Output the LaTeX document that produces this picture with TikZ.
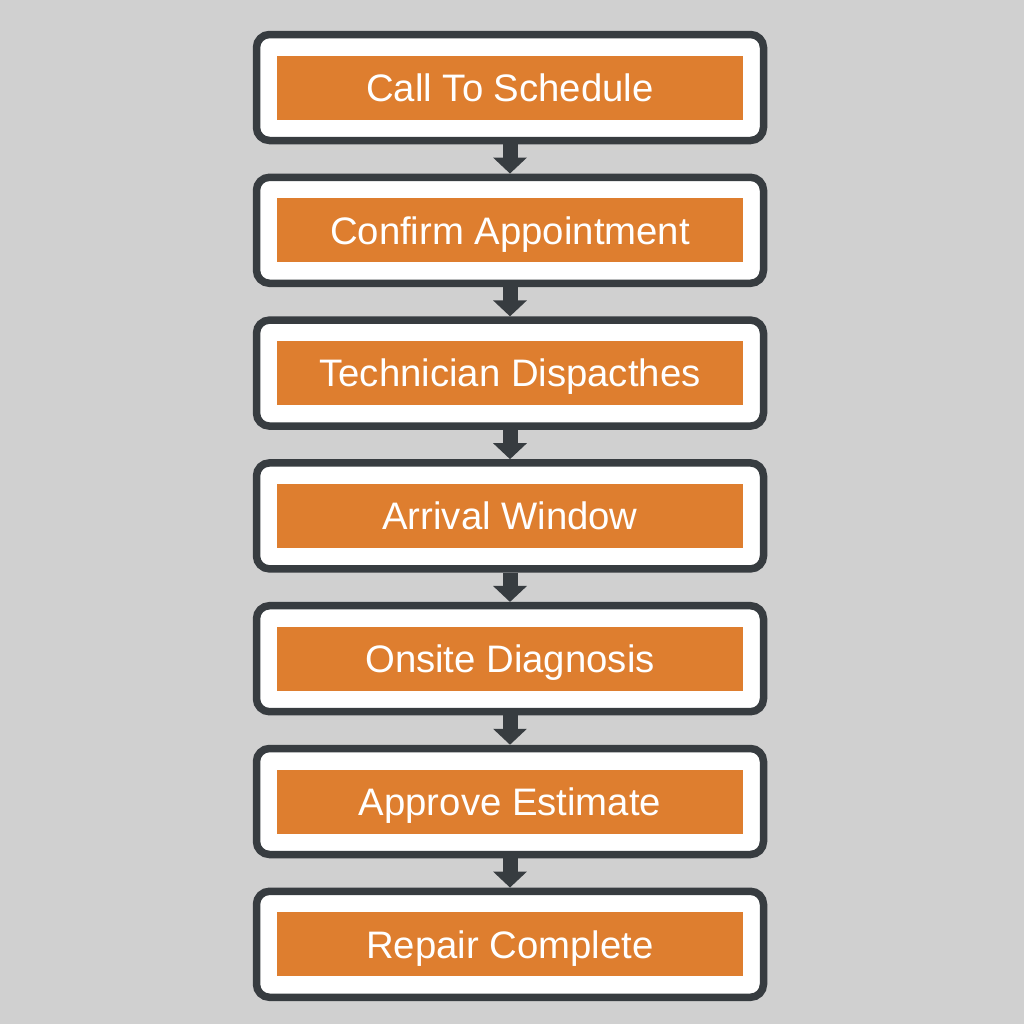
\documentclass[tikz,border=0pt]{standalone}
\usepackage{fontspec}
\setmainfont{Liberation Sans}
\usetikzlibrary{arrows.meta, positioning}
\definecolor{bggray}{HTML}{D0D0D0}
\definecolor{darkline}{HTML}{373C40}
\definecolor{steporange}{HTML}{DE7E2F}
\tikzstyle{card} = [rectangle, draw=darkline, fill=white, line width=0.075cm, rounded corners=0.13cm, minimum width=5.07cm, minimum height=1.06cm]
\tikzstyle{band} = [rectangle, fill=steporange, text=white, minimum width=4.66cm, minimum height=0.64cm, inner sep=0pt, text height=7.8pt, text depth=0pt, font=\fontsize{10.9}{13}\selectfont]
\tikzstyle{flow} = [draw=darkline, line width=0.15cm, -{Triangle[width=0.33cm, length=0.16cm]}]

\begin{document}
\begin{tikzpicture}[node distance = 1.428cm]
    % Background
    \fill [bggray] (0,0) rectangle (10.24,-10.24);
    \useasboundingbox (0,0) rectangle (10.24,-10.24);

    % Boxes
    \node [card] (call) at (5.10,-0.875) {};
    \node [card, below of=call] (confirm) {};
    \node [card, below of=confirm] (dispatch) {};
    \node [card, below of=dispatch] (arrival) {};
    \node [card, below of=arrival] (diagnosis) {};
    \node [card, below of=diagnosis] (estimate) {};
    \node [card, below of=estimate] (repair) {};

    % Labels
    \node [band] (callt) at (call) {Call To Schedule};
    \node [band] (confirmt) at (confirm) {Confirm Appointment};
    \node [band] (dispatcht) at (dispatch) {Technician Dispacthes};
    \node [band] (arrivalt) at (arrival) {Arrival Window};
    \node [band] (diagnosist) at (diagnosis) {Onsite Diagnosis};
    \node [band] (estimatet) at (estimate) {Approve Estimate};
    \node [band] (repairt) at (repair) {Repair Complete};

    % Arrows
    \path [flow] (call) -- (confirm);
    \path [flow] (confirm) -- (dispatch);
    \path [flow] (dispatch) -- (arrival);
    \path [flow] (arrival) -- (diagnosis);
    \path [flow] (diagnosis) -- (estimate);
    \path [flow] (estimate) -- (repair);

\end{tikzpicture}
\end{document}
